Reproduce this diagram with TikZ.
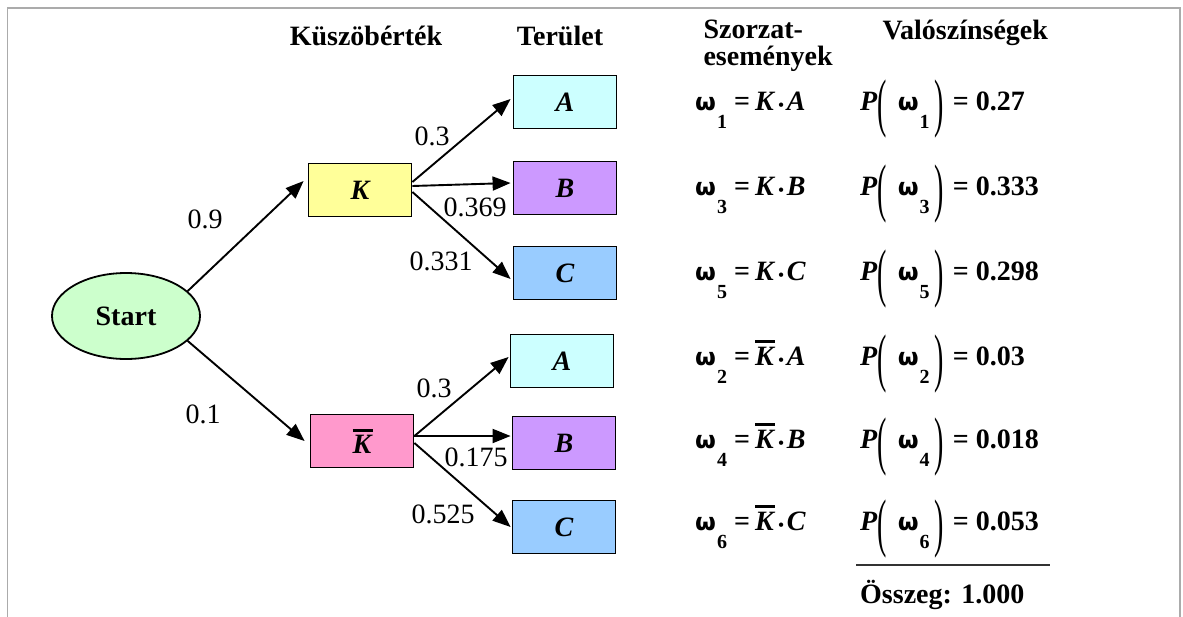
\documentclass[tikz,border=0pt]{standalone}
\usepackage{fontspec}
\setmainfont{Liberation Serif}
\newfontfamily\greekfont{DejaVu Sans}
\usepackage{graphicx}
\usetikzlibrary{arrows.meta,positioning,shapes.geometric}

\definecolor{startgreen}{HTML}{CCFFCC}
\definecolor{kyellow}{HTML}{FFFF99}
\definecolor{kpink}{HTML}{FF99CC}
\definecolor{areacyan}{HTML}{CCFFFF}
\definecolor{areaviolet}{HTML}{CC99FF}
\definecolor{areablue}{HTML}{99CCFF}

% bold omega with a low subscript
\newcommand{\om}[1]{{\greekfont\bfseries\fontsize{24}{24}\selectfont ω}\hspace{1pt}\raisebox{-18pt}{\fontsize{20}{20}\selectfont\bfseries #1}}
% K with a heavy bar
\newcommand{\kb}{\rlap{\rule[22pt]{20pt}{3pt}}\textbf{\textit{K}}}
% product dot
\newcommand{\pdot}{\hspace{3pt}{\fontsize{16}{16}\selectfont\bfseries •}\hspace{3pt}}
% tall thin brackets
\newcommand{\tallpar}[1]{\raisebox{-14pt}{\scalebox{1}[2.3]{\mdseries #1}}}

\tikzset{
  box/.style={draw, line width=1.8pt, minimum width=103pt, minimum height=53pt,
              font=\fontsize{28}{32}\selectfont\bfseries\itshape},
  arr/.style={line width=1.9pt, -{Triangle[length=18pt,width=14pt]}},
  lbl/.style={anchor=base},
  head/.style={font=\fontsize{28}{32}\selectfont\bfseries},
  frm/.style={draw=black!33, line width=1.5pt},
}

\begin{document}
\begin{tikzpicture}[x=1pt,y=-1pt,font=\fontsize{28}{32}\selectfont]
    \useasboundingbox (0,0) rectangle (1183,616);
    % Frame (open at the bottom)
    \draw[frm] (7.5,620) -- (7.5,8) -- (1180,8) -- (1180,620);

    % Column headers
    \node[head, anchor=base] (hk) at (366,45) {Küszöbérték};
    \node[head, anchor=base] (ht) at (560,45) {Terület};
    \node[head, anchor=base west] (hs) at (700,38) {Szorzat-};
    \node[head, anchor=base west] (he) at (700,65) {események};
    \node[head, anchor=base west] (hv) at (879,39) {Valószínségek};

    % Tree nodes
    \node[draw, ellipse, line width=1.8pt, fill=startgreen, minimum width=148pt, minimum height=86pt,
          font=\fontsize{28}{32}\selectfont\bfseries] (start) at (126,316) {Start};
    \node[box, fill=kyellow] (k) at (360,190) {K};
    \node[box, fill=kpink] (kbar) at (362,441) {\kb};

    \node[box, fill=areacyan] (a1) at (565,102) {A};
    \node[box, fill=areaviolet] (b1) at (565,188) {B};
    \node[box, fill=areablue] (c1) at (565,273) {C};
    \node[box, fill=areacyan] (a2) at (562,361) {A};
    \node[box, fill=areaviolet] (b2) at (564,443) {B};
    \node[box, fill=areablue] (c2) at (564,527) {C};

    % Branches
    \draw[arr] (start.22) -- ([xshift=-4pt,yshift=9pt]k.west);
    \draw[arr] (start.-22) -- ([xshift=-5pt]kbar.west);
    \draw[arr] ([yshift=8pt]k.east) -- ([xshift=-2pt,yshift=3pt]a1.west);
    \draw[arr] ([yshift=4pt]k.east) -- ([xshift=-2pt,yshift=5pt]b1.west);
    \draw[arr] ([yshift=-2pt]k.east) -- ([xshift=-2pt,yshift=-6pt]c1.west);
    \draw[arr] ([yshift=5pt]kbar.east) -- ([xshift=-1pt,yshift=4pt]a2.west);
    \draw[arr] ([yshift=5pt]kbar.east) -- ([xshift=-1pt,yshift=7pt]b2.west);
    \draw[arr] ([yshift=-2pt]kbar.east) -- ([xshift=-1pt]c2.west);

    % Branch probabilities
    \node[lbl] (l1) at (205,228) {0.9};
    \node[lbl] (l2) at (203,423) {0.1};
    \node[lbl] (l3) at (432,145) {0.3};
    \node[lbl] (l4) at (475,216) {0.369};
    \node[lbl] (l5) at (441,270) {0.331};
    \node[lbl] (l6) at (434,397) {0.3};
    \node[lbl] (l7) at (476,466) {0.175};
    \node[lbl] (l8) at (443,523) {0.525};

    % Product events
    \node[anchor=base west, inner sep=0pt] (w1) at (695,110) {\om{1}\hspace{7pt}\textbf{=}\hspace{5pt}\textbf{\textit{K}}\pdot\textbf{\textit{A}}};
    \node[anchor=base west, inner sep=0pt] (w3) at (695,195) {\om{3}\hspace{7pt}\textbf{=}\hspace{5pt}\textbf{\textit{K}}\pdot\textbf{\textit{B}}};
    \node[anchor=base west, inner sep=0pt] (w5) at (695,280) {\om{5}\hspace{7pt}\textbf{=}\hspace{5pt}\textbf{\textit{K}}\pdot\textbf{\textit{C}}};
    \node[anchor=base west, inner sep=0pt] (w2) at (695,365) {\om{2}\hspace{7pt}\textbf{=}\hspace{5pt}\kb\pdot\textbf{\textit{A}}};
    \node[anchor=base west, inner sep=0pt] (w4) at (695,448) {\om{4}\hspace{7pt}\textbf{=}\hspace{5pt}\kb\pdot\textbf{\textit{B}}};
    \node[anchor=base west, inner sep=0pt] (w6) at (695,530) {\om{6}\hspace{7pt}\textbf{=}\hspace{5pt}\kb\pdot\textbf{\textit{C}}};

    % Probabilities
    \node[anchor=base west, inner sep=0pt] (p1) at (860,110) {\textbf{\textit{P}}\tallpar{(}\hspace{11pt}\om{1}\hspace{5pt}\tallpar{)}\hspace{9pt}\textbf{= 0.27}};
    \node[anchor=base west, inner sep=0pt] (p3) at (860,195) {\textbf{\textit{P}}\tallpar{(}\hspace{11pt}\om{3}\hspace{5pt}\tallpar{)}\hspace{9pt}\textbf{= 0.333}};
    \node[anchor=base west, inner sep=0pt] (p5) at (860,280) {\textbf{\textit{P}}\tallpar{(}\hspace{11pt}\om{5}\hspace{5pt}\tallpar{)}\hspace{9pt}\textbf{= 0.298}};
    \node[anchor=base west, inner sep=0pt] (p2) at (860,365) {\textbf{\textit{P}}\tallpar{(}\hspace{11pt}\om{2}\hspace{5pt}\tallpar{)}\hspace{9pt}\textbf{= 0.03}};
    \node[anchor=base west, inner sep=0pt] (p4) at (860,448) {\textbf{\textit{P}}\tallpar{(}\hspace{11pt}\om{4}\hspace{5pt}\tallpar{)}\hspace{9pt}\textbf{= 0.018}};
    \node[anchor=base west, inner sep=0pt] (p6) at (860,530) {\textbf{\textit{P}}\tallpar{(}\hspace{11pt}\om{6}\hspace{5pt}\tallpar{)}\hspace{9pt}\textbf{= 0.053}};

    % Sum
    \coordinate (s1) at (856,565);
    \coordinate (s2) at (1050,565);
    \draw[line width=1.2pt, black!80] (s1) -- (s2);
    \node[anchor=base west, inner sep=0pt] (sum) at (860,603) {\textbf{Összeg: 1.000}};
\end{tikzpicture}
\end{document}
